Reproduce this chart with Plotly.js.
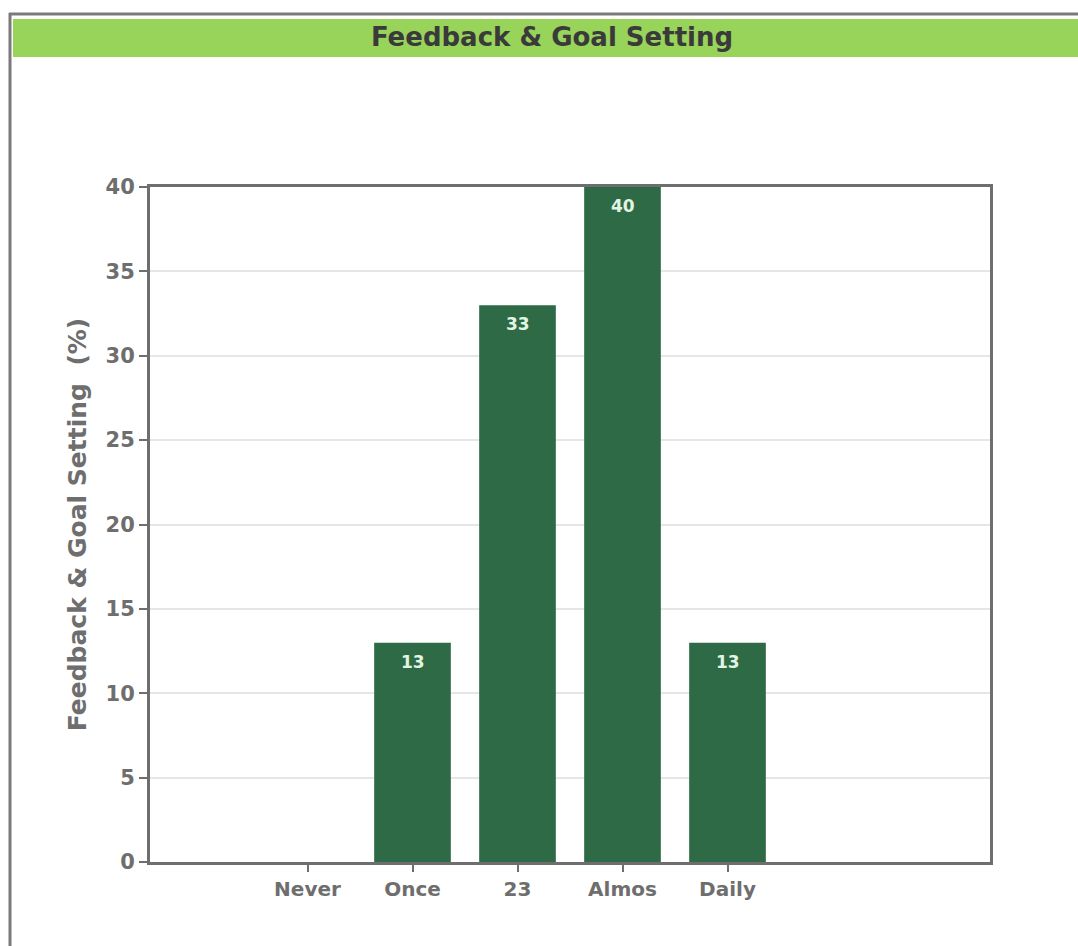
<!DOCTYPE html>
<html>
<head>
<meta charset="utf-8">
<script src="https://cdn.plot.ly/plotly-3.0.1.min.js"></script>
<style>html,body{margin:0;padding:0;background:#fff;}#chart{width:1078px;height:946px;}</style>
</head>
<body>
<div id="chart"></div>
<script>
const categories = ["Never", "Once", "23", "Almos", "Daily"];
const values = [0, 13, 33, 40, 13];
const chartTitle = "Feedback & Goal Setting";
const yTitle = "Feedback & Goal Setting  (%)";
const yTicks = [0, 5, 10, 15, 20, 25, 30, 35, 40];

const W = 1078, H = 946;
const L = 150, R = 990, T = 187, B = 862;
const px = x => (x - L) / (R - L);
const py = y => (B - y) / (B - T);
const FONT = "DejaVu Sans, Verdana, sans-serif";

const trace = {
  type: "bar",
  x: categories,
  y: values,
  marker: {color: "#2d6a45", line: {width: 0}},
  hoverinfo: "skip"
};

// value labels placed on the category axis by category index
const labelAnnotations = categories.map((c, i) => ({
  x: i, y: values[i], xref: "x", yref: "y",
  text: values[i] > 0 ? "<b>" + values[i] + "</b>" : "",
  showarrow: false, yanchor: "middle", yshift: -19,
  font: {family: FONT, size: 17, color: "#e2f4e2"}
})).filter(a => a.text !== "");

const gray = "#6e6e6e";
const layout = {
  width: W, height: H,
  margin: {l: L, r: W - R, t: T, b: H - B, pad: 0},
  paper_bgcolor: "#ffffff",
  plot_bgcolor: "#ffffff",
  showlegend: false,
  bargap: 0.27,
  font: {family: FONT, color: gray},
  title: {
    text: "<b>" + chartTitle + "</b>",
    font: {family: FONT, size: 26, color: "#3a3a3a"},
    xref: "paper", x: px(552), xanchor: "center",
    yref: "container", y: 1 - 37 / H, yanchor: "middle"
  },
  xaxis: {
    type: "category",
    categoryorder: "array",
    categoryarray: categories,
    range: [-1.5, 6.5],
    showgrid: false,
    showline: true, linecolor: gray, linewidth: 3, mirror: true,
    ticks: "outside", ticklen: 7, tickwidth: 2, tickcolor: gray,
    tickfont: {family: FONT, size: 20, color: gray, weight: "bold"},
    fixedrange: true
  },
  yaxis: {
    range: [0, 40],
    tickvals: yTicks,
    ticktext: yTicks.map(String),
    showgrid: true, gridcolor: "#e6e6e6", gridwidth: 2,
    zeroline: false,
    showline: true, linecolor: gray, linewidth: 3, mirror: true,
    ticks: "outside", ticklen: 8, tickwidth: 2, tickcolor: gray,
    tickfont: {family: FONT, size: 21, color: gray, weight: "bold"},
    title: {
      text: "<b>" + yTitle + "</b>",
      font: {family: FONT, size: 25, color: gray},
      standoff: 12
    },
    fixedrange: true
  },
  annotations: labelAnnotations,
  shapes: [
    {type: "rect", xref: "paper", yref: "paper",
     x0: px(13), x1: px(1080), y0: py(57), y1: py(19),
     fillcolor: "#98d35a", line: {width: 0}, layer: "below"},
    {type: "line", xref: "paper", yref: "paper",
     x0: px(9), x1: px(1080), y0: py(14), y1: py(14),
     line: {color: "#7a7a7a", width: 3}},
    {type: "line", xref: "paper", yref: "paper",
     x0: px(10), x1: px(10), y0: py(13), y1: py(948),
     line: {color: "#7a7a7a", width: 3}}
  ]
};

Plotly.newPlot("chart", [trace], layout, {displayModeBar: false, staticPlot: true});
</script>
</body>
</html>
